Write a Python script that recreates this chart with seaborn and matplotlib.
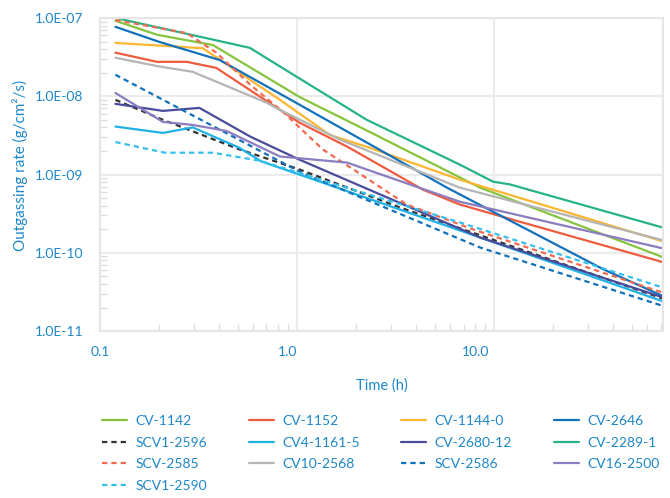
import numpy as np
import pandas as pd
import matplotlib
matplotlib.use("Agg")
import matplotlib.pyplot as plt
import matplotlib.ticker as mticker
import matplotlib.transforms as mtransforms
import seaborn as sns

# values (time in h, outgassing rate in g/cm2/s)
cv1142_t = [0.12, 0.195, 0.375, 1.03, 2.34, 8.5, 72]
cv1142_v = [9.2e-8, 6.1e-8, 4.5e-8, 9.8e-9, 3.5e-9, 6.8e-10, 8.8e-11]

cv1152_t = [0.12, 0.195, 0.276, 0.39, 1.03, 1.8, 4.36, 6.7, 13.5, 72]
cv1152_v = [3.6e-8, 2.75e-8, 2.75e-8, 2.3e-8, 4.6e-9, 2.27e-9, 6.4e-10, 4.15e-10, 2.5e-10, 7.6e-11]

cv11440_t = [0.12, 0.333, 0.82, 1.47, 2.34, 6.7, 72]
cv11440_v = [4.8e-8, 4.1e-8, 9.0e-9, 3.2e-9, 2.2e-9, 8.6e-10, 1.4e-10]

cv2646_t = [0.12, 0.2, 0.406, 1.03, 5.77, 35.7, 72]
cv2646_v = [7.7e-8, 4.95e-8, 2.9e-8, 7.8e-9, 6.8e-10, 6.2e-11, 2.8e-11]

scv12596_t = [0.12, 0.209, 0.51, 1.03, 3.33, 72]
scv12596_v = [9.0e-9, 5.0e-9, 2.1e-9, 1.16e-9, 3.8e-10, 2.6e-11]

cv411615_t = [0.12, 0.209, 0.296, 0.51, 0.66, 1.03, 8.5, 72]
cv411615_v = [4.1e-9, 3.4e-9, 4.0e-9, 2.2e-9, 1.47e-9, 1.0e-9, 1.57e-10, 2.4e-11]

cv268012_t = [0.12, 0.209, 0.32, 0.58, 1.03, 8.5, 72]
cv268012_v = [8.0e-9, 6.5e-9, 7.1e-9, 3.05e-9, 1.55e-9, 1.57e-10, 2.7e-11]

cv22891_t = [0.12, 0.577, 0.82, 2.26, 6.7, 9.9, 12.0, 72]
cv22891_v = [1.0e-7, 4.15e-8, 2.4e-8, 5.0e-9, 1.34e-9, 8.1e-10, 7.5e-10, 2.1e-10]

scv2585_t = [0.12, 0.276, 0.39, 0.58, 0.85, 1.35, 3.6, 7.8, 72]
scv2585_v = [9.4e-8, 6.4e-8, 3.6e-8, 1.4e-8, 6.3e-9, 2.1e-9, 4.15e-10, 2.0e-10, 3.1e-11]

cv102568_t = [0.12, 0.2, 0.296, 0.7, 0.82, 1.65, 6.7, 72]
cv102568_v = [3.1e-8, 2.4e-8, 2.05e-8, 8.3e-9, 6.7e-9, 2.8e-9, 6.8e-10, 1.45e-10]

scv2586_t = [0.12, 1.03, 8.5, 72]
scv2586_v = [1.88e-8, 1.09e-9, 1.17e-10, 2.1e-11]

cv162500_t = [0.12, 0.209, 0.296, 0.44, 0.82, 1.8, 2.26, 6.7, 72]
cv162500_v = [1.1e-8, 4.7e-9, 4.3e-9, 3.6e-9, 1.7e-9, 1.42e-9, 1.16e-9, 4.5e-10, 1.14e-10]

scv12590_t = [0.12, 0.214, 0.375, 0.65, 1.47, 6.7, 72]
scv12590_v = [2.6e-9, 1.9e-9, 1.9e-9, 1.5e-9, 7.9e-10, 2.45e-10, 3.6e-11]

names = ["CV-1142", "CV-1152", "CV-1144-0", "CV-2646", "SCV1-2596", "CV4-1161-5",
         "CV-2680-12", "CV-2289-1", "SCV-2585", "CV10-2568", "SCV-2586", "CV16-2500",
         "SCV1-2590"]
times = [cv1142_t, cv1152_t, cv11440_t, cv2646_t, scv12596_t, cv411615_t, cv268012_t,
         cv22891_t, scv2585_t, cv102568_t, scv2586_t, cv162500_t, scv12590_t]
rates = [cv1142_v, cv1152_v, cv11440_v, cv2646_v, scv12596_v, cv411615_v, cv268012_v,
         cv22891_v, scv2585_v, cv102568_v, scv2586_v, cv162500_v, scv12590_v]

colors = ["#86C440", "#EF5B3F", "#FBB631", "#1171BA", "#333333", "#20B2E7", "#484C9B",
          "#26B38A", "#F26B50", "#B5B5B5", "#1171BA", "#8C7DC1", "#35C0EC"]
dashed = ["SCV1-2596", "SCV-2585", "SCV-2586", "SCV1-2590"]

rows = []
for n, ts, vs in zip(names, times, rates):
    for t, v in zip(ts, vs):
        rows.append({"sample": n, "time": t, "rate": v})
df = pd.DataFrame(rows)

blue = "#1D87C9"
sns.set_theme(style="white")
plt.rcParams["font.family"] = ["Lato", "DejaVu Sans"]

fig = plt.figure(figsize=(6.7, 4.98), dpi=100)
ax = fig.add_axes([0.149, 0.335, 0.8406, 0.629])

sns.lineplot(data=df, x="time", y="rate", hue="sample", style="sample",
             hue_order=names, style_order=names,
             palette=dict(zip(names, colors)),
             dashes={n: ((2.4, 1.8) if n in dashed else "") for n in names},
             estimator=None, sort=False, linewidth=1.6, ax=ax)

ax.set_xscale("log")
ax.set_yscale("log")
ax.set_xlim(0.1, 72)
ax.set_ylim(1e-11, 1e-7)

ax.xaxis.set_major_locator(mticker.FixedLocator([0.1, 1, 10]))
ax.xaxis.set_major_formatter(mticker.FuncFormatter(lambda v, p: f"{v:.1f}"))
ax.xaxis.set_minor_locator(mticker.LogLocator(base=10, subs=np.arange(2, 10)))
ax.xaxis.set_minor_formatter(mticker.NullFormatter())
ax.yaxis.set_major_locator(mticker.FixedLocator([1e-11, 1e-10, 1e-9, 1e-8, 1e-7]))
ax.yaxis.set_major_formatter(mticker.FuncFormatter(lambda v, p: f"{v:.1E}"))
ax.yaxis.set_minor_locator(mticker.LogLocator(base=10, subs=np.arange(2, 10)))
ax.yaxis.set_minor_formatter(mticker.NullFormatter())

ax.grid(True, which="major", color="#EBEBEB", linewidth=1.5)
for s in ax.spines.values():
    s.set_color("#E6E6E6")
    s.set_linewidth(1.5)
ax.tick_params(which="major", length=0, labelsize=10, labelcolor=blue)
ax.tick_params(axis="x", which="major", pad=11)
ax.tick_params(axis="y", which="major", pad=12)
ax.tick_params(which="minor", direction="in", length=5, width=1, color="#DDDDDD")
ax.tick_params(axis="x", which="minor", bottom=True)
ax.tick_params(axis="y", which="minor", left=True)

# the original's x labels sit a little left of their gridlines
for tick, dx in zip(ax.xaxis.get_major_ticks(), [0, -7, -13]):
    tick.label1.set_transform(tick.label1.get_transform() +
                              mtransforms.ScaledTranslation(dx / 72, 0, fig.dpi_scale_trans))

ax.set_xlabel("Time (h)", color=blue, fontsize=10.5, labelpad=14)
ax.set_ylabel("Outgassing rate (g/cm²/s)", color=blue, fontsize=11)
ax.yaxis.set_label_coords(-0.128, 0.53)

handles, labels = ax.get_legend_handles_labels()
ax.get_legend().remove()
lookup = dict(zip(labels, handles))
order = ["CV-1142", "SCV1-2596", "SCV-2585", "SCV1-2590",
         "CV-1152", "CV4-1161-5", "CV10-2568",
         "CV-1144-0", "CV-2680-12", "SCV-2586",
         "CV-2646", "CV-2289-1", "CV16-2500"]
leg = fig.legend([lookup[n] for n in order], order, ncol=4, frameon=False,
                 loc="upper left", bbox_to_anchor=(0.142, 0.18), fontsize=10,
                 handlelength=1.8, handletextpad=0.6, columnspacing=3.0,
                 labelspacing=0.68, borderpad=0)
for t in leg.get_texts():
    t.set_color(blue)

fig.savefig("out.png", dpi=100)
